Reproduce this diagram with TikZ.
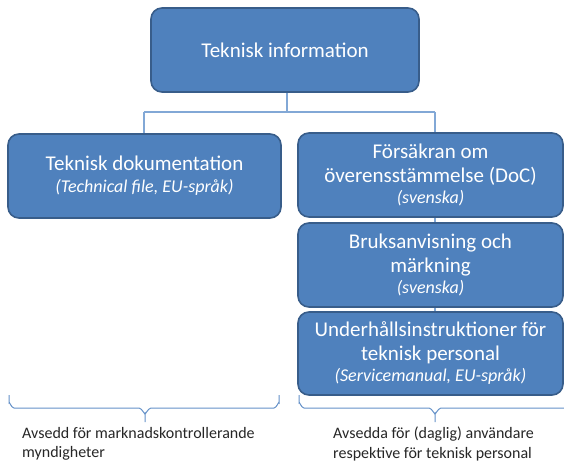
\documentclass[tikz,border=0pt]{standalone}
\usepackage{fontspec}
\setmainfont{Carlito}
\definecolor{boxfill}{RGB}{79,129,189}
\definecolor{boxline}{RGB}{56,93,138}
\definecolor{conn}{RGB}{130,168,214}
\definecolor{bracec}{RGB}{100,145,200}
\begin{document}
\begin{tikzpicture}[x=1pt,y=-1pt,
  blue box/.style={draw=boxline,fill=boxfill,line width=1.6pt,rounded corners=11pt,
    text=white,align=center,inner sep=0pt,font=\fontsize{21}{24}\selectfont},
  conline/.style={draw=conn,line width=1.1pt},
  bracel/.style={draw=bracec,line width=1pt},
  note/.style={anchor=north west,align=left,inner sep=0pt,text=black!85,font=\fontsize{16}{19.5}\selectfont}]
\useasboundingbox (0,0) rectangle (564,466);
\newcommand{\itl}[1]{{\fontsize{18}{21}\selectfont\itshape #1}}
% connectors
\coordinate (hub) at (287,112);
\coordinate (hl) at (144,112);
\coordinate (hr) at (435,112);
\coordinate (rb) at (435,330);
\draw[conline] (287,92) -- (hub);
\draw[conline] (hl) -- (hr);
\draw[conline] (hl) -- (144,134);
\draw[conline] (hr) -- (rb);
% boxes
\node[blue box,minimum width=268pt,minimum height=84pt] (top) at (285,50) {Teknisk information};
\node[blue box,minimum width=273pt,minimum height=84pt] (left) at (144.5,176) {Teknisk dokumentation\\[-2pt]\itl{(Technical file, EU-språk)}};
\node[blue box,minimum width=265pt,minimum height=84pt] (r1) at (430.5,175) {Försäkran om\\överensstämmelse (DoC)\\[-3pt]\itl{(svenska)}};
\node[blue box,minimum width=265pt,minimum height=84pt] (r2) at (430.5,265) {Bruksanvisning och\\märkning\\[-3pt]\itl{(svenska)}};
\node[blue box,minimum width=265pt,minimum height=83pt] (r3) at (430.5,353.5) {Underhållsinstruktioner för\\teknisk personal\\[-3pt]\itl{(Servicemanual, EU-språk)}};
% braces
\coordinate (lbtip) at (145,422);
\coordinate (rbtip) at (435,422);
\draw[bracel] (9,395) -- (9,403) to[out=90,in=180] (14,408) -- (139,408) to[out=0,in=-90] (145,413) -- (lbtip);
\draw[bracel] (279,395) -- (279,403) to[out=90,in=0] (274,408) -- (151,408) to[out=180,in=-90] (145,413);
\draw[bracel] (299,395) -- (299,403) to[out=90,in=180] (304,408) -- (429,408) to[out=0,in=-90] (435,413) -- (rbtip);
\draw[bracel] (571,395) -- (571,403) to[out=90,in=0] (566,408) -- (441,408) to[out=180,in=-90] (435,413);
% notes
\node[note] (nl) at (22,427) {Avsedd för marknadskontrollerande\\myndigheter};
\node[note] (nr) at (333,427) {Avsedda för (daglig) användare\\respektive för teknisk personal};
\end{tikzpicture}
\end{document}
